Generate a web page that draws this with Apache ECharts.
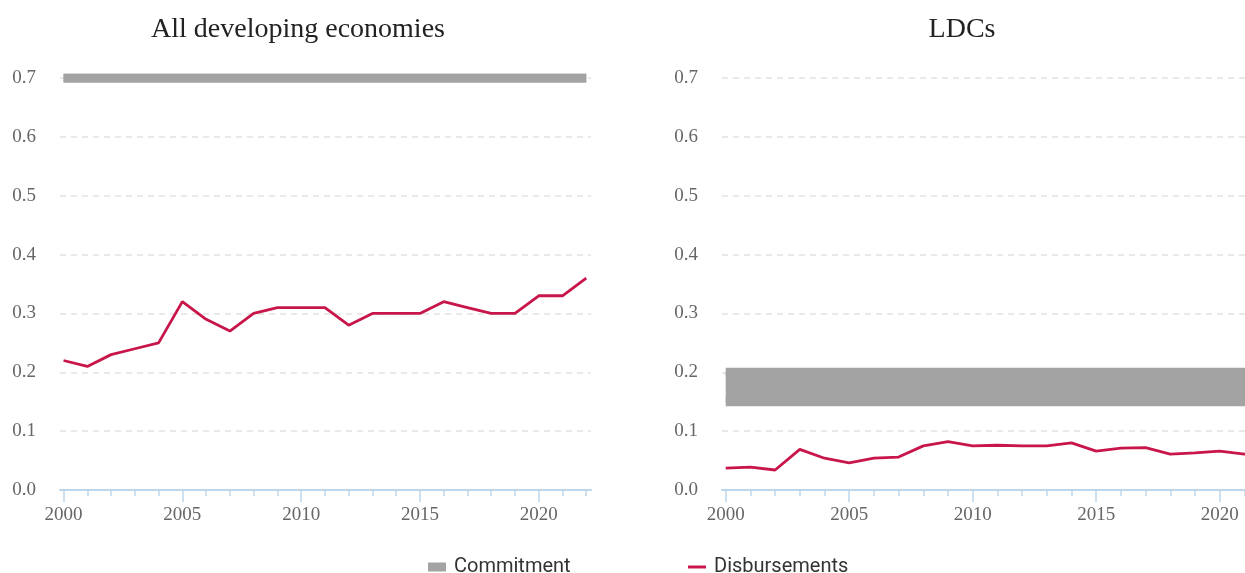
<!DOCTYPE html>
<html>
<head>
<meta charset="utf-8">
<script src="https://cdn.jsdelivr.net/npm/echarts@6/dist/echarts.min.js"></script>
<style>
  html, body { margin: 0; padding: 0; background: #fff; }
  #chart { width: 1245px; height: 573px; }
</style>
</head>
<body>
<div id="chart"></div>
<script>
const years = [2000, 2001, 2002, 2003, 2004, 2005, 2006, 2007, 2008, 2009, 2010, 2011,
  2012, 2013, 2014, 2015, 2016, 2017, 2018, 2019, 2020, 2021, 2022]
const labelYears = [2000, 2005, 2010, 2015, 2020]

// disbursements, % of GNI
const allDisbursements = [0.22, 0.21, 0.23, 0.24, 0.25, 0.32, 0.29, 0.27, 0.30, 0.31, 0.31, 0.31,
  0.28, 0.30, 0.30, 0.30, 0.32, 0.31, 0.30, 0.30, 0.33, 0.33, 0.36]
const ldcDisbursements = [0.037, 0.039, 0.034, 0.069, 0.054, 0.046, 0.054, 0.056, 0.075, 0.082, 0.075, 0.076,
  0.075, 0.075, 0.080, 0.066, 0.071, 0.072, 0.061, 0.063, 0.066, 0.061, 0.060]

// commitment targets (low / high end of range)
const allCommitLow = years.map(() => 0.7)
const allCommitHigh = years.map(() => 0.7)
const ldcCommitLow = years.map(() => 0.15)
const ldcCommitHigh = years.map(() => 0.2)

const LINE_COLOR = '#c8164a'
const BAND_COLOR = '#a3a3a3'
const AXIS_COLOR = '#bcd6ec'
const SERIF = '"Liberation Serif", "Times New Roman", serif'

const chart = echarts.init(document.getElementById('chart'))

function pairs(values) {
  return years.map((y, i) => [y, values[i]])
}

function majorX(gridIndex) {
  return {
    type: 'value',
    gridIndex,
    position: 'bottom',
    min: 1999.85,
    max: 2022.2,
    axisLine: { show: true, onZero: false, lineStyle: { color: AXIS_COLOR, width: 2 } },
    axisTick: { show: true, customValues: labelYears, length: 12, lineStyle: { color: AXIS_COLOR, width: 1.5 } },
    axisLabel: {
      customValues: labelYears,
      color: '#666',
      fontFamily: SERIF,
      fontSize: 19,
      margin: 16,
      formatter: (v) => String(v)
    },
    splitLine: { show: false }
  }
}

function minorX(gridIndex) {
  return {
    type: 'value',
    gridIndex,
    position: 'bottom',
    min: 1999.85,
    max: 2022.2,
    axisLine: { show: false, onZero: false },
    axisTick: { show: true, customValues: years, length: 6, lineStyle: { color: AXIS_COLOR, width: 1.5 } },
    axisLabel: { show: false },
    splitLine: { show: false }
  }
}

function yAxis(gridIndex) {
  return {
    type: 'value',
    gridIndex,
    min: 0,
    max: 0.7,
    interval: 0.1,
    axisLine: { show: false },
    axisTick: { show: false },
    axisLabel: {
      color: '#666',
      fontFamily: SERIF,
      fontSize: 19,
      margin: 24,
      padding: [4, 0, 0, 0],
      formatter: (v) => v.toFixed(1)
    },
    splitLine: { lineStyle: { color: '#e2e2e2', type: [6, 5], width: 1.5 } }
  }
}

function bandSeries(axisIndex, low, high) {
  return [
    {
      name: 'Commitment',
      type: 'line',
      xAxisIndex: axisIndex,
      yAxisIndex: axisIndex / 2,
      data: pairs(high),
      symbol: 'none',
      color: BAND_COLOR,
      lineStyle: { color: BAND_COLOR, width: 9, cap: 'butt' },
      areaStyle: { color: BAND_COLOR, opacity: 1, origin: low[0] },
      z: 1
    },
    {
      name: 'Commitment',
      type: 'line',
      xAxisIndex: axisIndex,
      yAxisIndex: axisIndex / 2,
      data: pairs(low),
      symbol: 'none',
      color: BAND_COLOR,
      lineStyle: { color: BAND_COLOR, width: 9, cap: 'butt' },
      z: 1
    }
  ]
}

function disbursementSeries(axisIndex, values) {
  return {
    name: 'Disbursements',
    type: 'line',
    xAxisIndex: axisIndex,
    yAxisIndex: axisIndex / 2,
    data: pairs(values),
    symbol: 'none',
    color: LINE_COLOR,
    lineStyle: { color: LINE_COLOR, width: 2.8 },
    z: 3
  }
}

const legendText = { fontFamily: 'Roboto', fontSize: 20, color: '#333', padding: [0, 0, 0, 3] }

chart.setOption({
  animation: false,
  backgroundColor: '#fff',
  title: [
    {
      text: 'All developing economies',
      left: 293,
      top: 11,
      textAlign: 'center',
      textStyle: { fontFamily: SERIF, fontSize: 28, fontWeight: 'normal', color: '#222' }
    },
    {
      text: 'LDCs',
      left: 957,
      top: 11,
      textAlign: 'center',
      textStyle: { fontFamily: SERIF, fontSize: 28, fontWeight: 'normal', color: '#222' }
    }
  ],
  legend: [
    {
      data: ['Commitment'],
      left: 428,
      top: 557,
      padding: 0,
      icon: 'rect',
      itemWidth: 18,
      itemHeight: 9,
      textStyle: legendText
    },
    {
      data: ['Disbursements'],
      left: 688,
      top: 557,
      padding: 0,
      icon: 'rect',
      itemWidth: 18,
      itemHeight: 3,
      textStyle: legendText
    }
  ],
  grid: [
    { left: 60, top: 78, width: 531, height: 412, outerBoundsMode: 'none' },
    { left: 722, top: 78, width: 552, height: 412, outerBoundsMode: 'none' }
  ],
  xAxis: [majorX(0), minorX(0), majorX(1), minorX(1)],
  yAxis: [yAxis(0), yAxis(1)],
  series: [
    ...bandSeries(0, allCommitLow, allCommitHigh),
    disbursementSeries(0, allDisbursements),
    ...bandSeries(2, ldcCommitLow, ldcCommitHigh),
    disbursementSeries(2, ldcDisbursements)
  ]
})
</script>
</body>
</html>
